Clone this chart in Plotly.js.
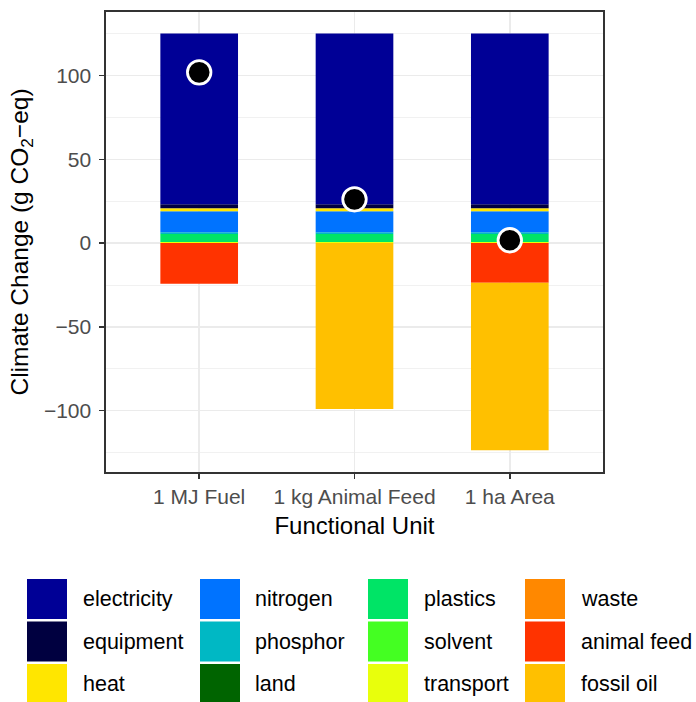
<!DOCTYPE html>
<html>
<head>
<meta charset="utf-8">
<script src="https://cdn.plot.ly/plotly-3.0.1.min.js"></script>
<style>html,body{margin:0;padding:0;background:#fff;}</style>
</head>
<body>
<div id="chart" style="width:696px;height:702px;"></div>
<script>
// Functional units on the x axis
const units = ['1 MJ Fuel', '1 kg Animal Feed', '1 ha Area'];

// Contribution categories (legend order) and their fill colours
const categories = ['electricity', 'equipment', 'heat', 'nitrogen', 'phosphor', 'land',
                    'plastics', 'solvent', 'transport', 'waste', 'animal feed', 'fossil oil'];
const colors = ['#000096', '#000040', '#FFE600', '#0073FF', '#00B8C4', '#006400',
                '#00E466', '#44FF22', '#E8FF0C', '#FF8800', '#FF3300', '#FFC000'];

// Contributions per functional unit, g CO2-eq
const electricity = [101.8, 101.8, 101.8];
const equipment   = [2.4, 2.4, 2.4];
const heat        = [1.8, 1.8, 1.8];
const nitrogen    = [12.6, 12.6, 12.6];
const phosphor    = [1.0, 1.0, 1.0];
const land        = [0, 0, 0];
const plastics    = [4.7, 4.7, 4.7];
const solvent     = [0, 0, 0];
const transport   = [0.7, 0.7, 0.7];
const waste       = [0, 0, 0];
const animalFeed  = [-24.2, 0, -23.6];
const fossilOil   = [0, -99.0, -99.9];

// Net climate change per functional unit
const netTotal = [101.8, 26.1, 1.7];

const seriesByCategory = {
  'electricity': electricity, 'equipment': equipment, 'heat': heat,
  'nitrogen': nitrogen, 'phosphor': phosphor, 'land': land,
  'plastics': plastics, 'solvent': solvent, 'transport': transport,
  'waste': waste, 'animal feed': animalFeed, 'fossil oil': fossilOil
};

// Order in which segments are stacked outward from zero
const stackOrder = ['transport', 'solvent', 'plastics', 'land', 'phosphor', 'nitrogen',
                    'heat', 'equipment', 'electricity', 'waste', 'animal feed', 'fossil oil'];

const FONT = 'Liberation Sans, Arial, Helvetica, sans-serif';

const traces = stackOrder.map(name => ({
  type: 'bar',
  name: name,
  x: units,
  y: seriesByCategory[name],
  width: 0.5,
  marker: {color: colors[categories.indexOf(name)], line: {width: 0}},
  showlegend: false,
  hoverinfo: 'x+y+name'
}));

traces.push({
  type: 'scatter',
  mode: 'markers',
  name: 'net',
  x: units,
  y: netTotal,
  marker: {color: '#000000', size: 23.5, line: {color: '#FFFFFF', width: 2.8}},
  cliponaxis: false,
  showlegend: false
});

// Plot-area geometry in pixels, used to place the legend grid below it
const W = 696, H = 702;
const M = {l: 106, r: 93, t: 12, b: 230};
const plotW = W - M.l - M.r, plotH = H - M.t - M.b;
const px2x = px => (px - M.l) / plotW;
const py2y = py => (H - M.b - py) / plotH;

const keyLeft = [27, 200, 368, 525];
const textLeft = [81, 253, 422, 579];
const rowTop = [579, 621.5, 664];
const keySize = 40;

const shapes = [];
const annotations = [];
categories.forEach((name, i) => {
  const col = Math.floor(i / 3), row = i % 3;
  shapes.push({
    type: 'rect', xref: 'paper', yref: 'paper', layer: 'above',
    x0: px2x(keyLeft[col]), x1: px2x(keyLeft[col] + keySize),
    y0: py2y(rowTop[row] + keySize), y1: py2y(rowTop[row]),
    fillcolor: colors[i], line: {width: 0}
  });
  annotations.push({
    xref: 'paper', yref: 'paper', showarrow: false,
    x: px2x(textLeft[col]), y: py2y(rowTop[row] + keySize / 2),
    xanchor: 'left', yanchor: 'middle',
    text: name, font: {family: FONT, size: 21.5, color: '#000000'}
  });
});

const layout = {
  width: W, height: H,
  margin: M,
  paper_bgcolor: '#FFFFFF', plot_bgcolor: '#FFFFFF',
  barmode: 'relative',
  bargap: 0.5,
  showlegend: false,
  font: {family: FONT},
  xaxis: {
    type: 'category',
    range: [-0.6, 2.6],
    showgrid: true, gridcolor: '#EBEBEB', gridwidth: 1.4,
    showline: true, mirror: true, linecolor: '#333333', linewidth: 1.6,
    ticks: 'outside', ticklen: 5, tickwidth: 1.4, tickcolor: '#333333',
    tickfont: {family: FONT, size: 21, color: '#4D4D4D'},
    title: {text: 'Functional Unit', font: {family: FONT, size: 24, color: '#000000'}, standoff: 10},
    automargin: false, fixedrange: true
  },
  yaxis: {
    range: [-136.5, 137.8],
    tickvals: [-100, -50, 0, 50, 100],
    ticktext: ['\u2212100', '\u221250', '0', '50', '100'],
    showgrid: true, gridcolor: '#EBEBEB', gridwidth: 1.4,
    zeroline: false,
    minor: {tick0: 25, dtick: 50, showgrid: true, gridcolor: '#EEEEEE', gridwidth: 0.8, ticks: ''},
    showline: true, mirror: true, linecolor: '#333333', linewidth: 1.6,
    ticks: 'outside', ticklen: 5, tickwidth: 1.4, tickcolor: '#333333',
    ticklabelstandoff: 4,
    tickfont: {family: FONT, size: 21, color: '#4D4D4D'},
    title: {text: 'Climate Change (g CO<sub>2</sub>\u2212eq)', font: {family: FONT, size: 24.5, color: '#000000'}, standoff: 8},
    automargin: false, fixedrange: true
  },
  shapes: shapes,
  annotations: annotations
};

Plotly.newPlot('chart', traces, layout, {displayModeBar: false, staticPlot: true});
</script>
</body>
</html>
